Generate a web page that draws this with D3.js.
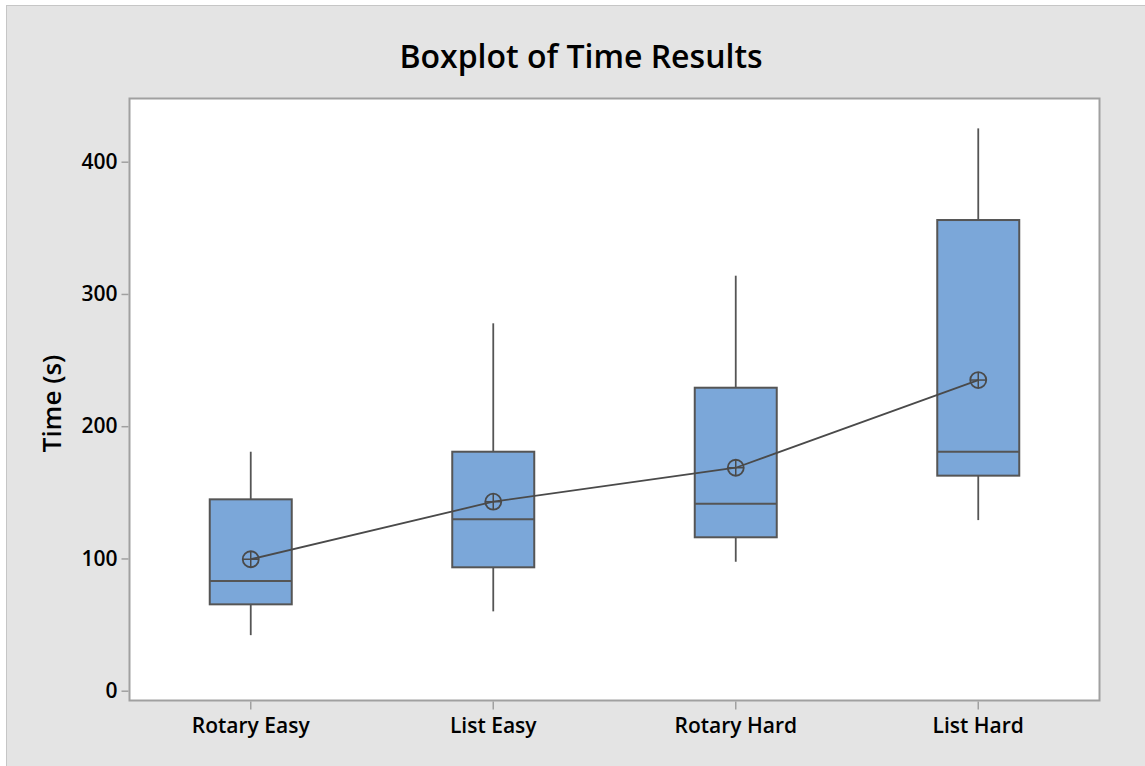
<!DOCTYPE html>
<html>
<head>
<meta charset="utf-8">
<script src="https://cdn.jsdelivr.net/npm/d3@7/dist/d3.min.js"></script>
<style>
  html, body { margin: 0; padding: 0; background: #ffffff; }
  svg { display: block; font-family: "Open Sans", "Noto Sans", sans-serif; }
</style>
</head>
<body>
<svg id="chart" width="1145" height="766"></svg>
<script>
// Task groups and their five-number summaries (seconds)
const categories = ["Rotary Easy", "List Easy", "Rotary Hard", "List Hard"];
const whiskerLow  = [42, 60, 97.5, 129];
const q1          = [65.3, 93.3, 116, 162.6];
const median      = [83, 129.6, 141.4, 180.7];
const q3          = [144.7, 180.7, 229.1, 355.9];
const whiskerHigh = [180.7, 277.8, 313.8, 425.2];
const means       = [99.4, 142.9, 168.6, 234.9];
const yTicks      = [0, 100, 200, 300, 400];

const svg = d3.select("#chart");
const W = 1145, H = 766;

// Outer panel
svg.append("rect").attr("x", 0).attr("y", 0).attr("width", W).attr("height", H).attr("fill", "#ffffff");
svg.append("rect").attr("x", 6.5).attr("y", 5.5).attr("width", W).attr("height", H)
  .attr("fill", "#e4e4e4").attr("stroke", "#c6c6c6").attr("stroke-width", 1);

const plot = { left: 129.5, right: 1099.5, top: 98.5, bottom: 700.5 };

svg.append("rect")
  .attr("x", plot.left).attr("y", plot.top)
  .attr("width", plot.right - plot.left).attr("height", plot.bottom - plot.top)
  .attr("fill", "#ffffff").attr("stroke", "#a0a0a0").attr("stroke-width", 2);

const x = d3.scaleBand().domain(categories).range([plot.left, plot.right]).padding(0);
const y = d3.scaleLinear().domain([0, 400]).range([690.7, 161.7]);

// Axes
const yAxis = svg.append("g").attr("transform", `translate(${plot.left - 1},0)`)
  .call(d3.axisLeft(y).tickValues(yTicks).tickSize(7).tickPadding(4));
const xAxis = svg.append("g").attr("transform", `translate(0,${plot.bottom + 1})`)
  .call(d3.axisBottom(x).tickSize(8).tickPadding(9));
[yAxis, xAxis].forEach(g => {
  g.select(".domain").remove();
  g.selectAll(".tick line").attr("stroke", "#a0a0a0").attr("stroke-width", 1.5);
  g.selectAll(".tick text").attr("fill", "#000").attr("font-weight", 600)
    .attr("font-family", "'Open Sans', 'Noto Sans', sans-serif");
});
yAxis.selectAll(".tick text").attr("font-size", 21);
xAxis.selectAll(".tick text").attr("font-size", 21);

const boxW = 82;
const stroke = "#555555";
const data = categories.map((c, i) => ({
  c, lo: whiskerLow[i], q1: q1[i], med: median[i], q3: q3[i], hi: whiskerHigh[i], mean: means[i]
}));

const g = svg.append("g");
const cx = d => x(d.c) + x.bandwidth() / 2;

// Whiskers
g.selectAll(".wu").data(data).join("line")
  .attr("x1", cx).attr("x2", cx).attr("y1", d => y(d.q3)).attr("y2", d => y(d.hi))
  .attr("stroke", stroke).attr("stroke-width", 1.8);
g.selectAll(".wl").data(data).join("line")
  .attr("x1", cx).attr("x2", cx).attr("y1", d => y(d.q1)).attr("y2", d => y(d.lo))
  .attr("stroke", stroke).attr("stroke-width", 1.8);

// Boxes
g.selectAll(".box").data(data).join("rect")
  .attr("x", d => cx(d) - boxW / 2).attr("width", boxW)
  .attr("y", d => y(d.q3)).attr("height", d => y(d.q1) - y(d.q3))
  .attr("fill", "#7ba7d9").attr("stroke", stroke).attr("stroke-width", 2);

// Medians
g.selectAll(".med").data(data).join("line")
  .attr("x1", d => cx(d) - boxW / 2).attr("x2", d => cx(d) + boxW / 2)
  .attr("y1", d => y(d.med)).attr("y2", d => y(d.med))
  .attr("stroke", stroke).attr("stroke-width", 2);

// Mean connect line
g.append("path").datum(data)
  .attr("d", d3.line().x(cx).y(d => y(d.mean)))
  .attr("fill", "none").attr("stroke", "#4a4a4a").attr("stroke-width", 1.8);

// Mean symbols (circled plus)
const r = 8;
const ms = g.selectAll(".mean").data(data).join("g")
  .attr("transform", d => `translate(${cx(d)},${y(d.mean)})`);
ms.append("circle").attr("r", r).attr("fill", "none").attr("stroke", "#4a4a4a").attr("stroke-width", 1.8);
ms.append("line").attr("x1", -r).attr("x2", r).attr("stroke", "#4a4a4a").attr("stroke-width", 1.5);
ms.append("line").attr("y1", -r).attr("y2", r).attr("stroke", "#4a4a4a").attr("stroke-width", 1.5);

// Title
svg.append("text").attr("x", 581).attr("y", 68).attr("text-anchor", "middle")
  .attr("font-size", 32).attr("font-weight", 600).attr("fill", "#000")
  .text("Boxplot of Time Results");

// Y axis label
svg.append("text")
  .attr("transform", `translate(61,${(plot.top + plot.bottom) / 2 + 4}) rotate(-90)`)
  .attr("text-anchor", "middle").attr("font-size", 26).attr("font-weight", 600).attr("fill", "#000")
  .text("Time (s)");
</script>
</body>
</html>
